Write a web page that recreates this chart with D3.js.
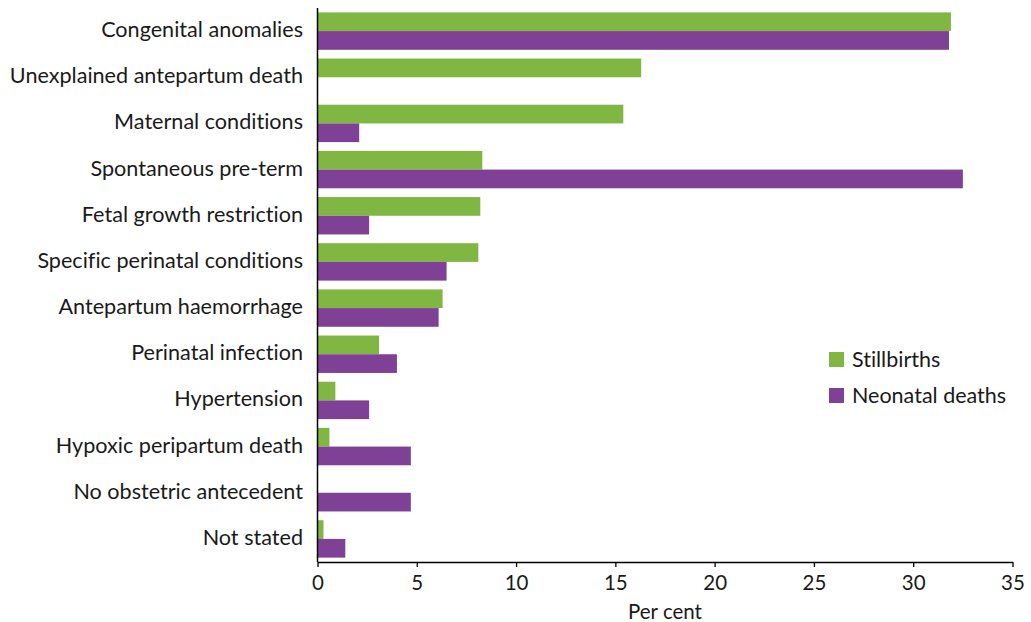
<!DOCTYPE html>
<html>
<head>
<meta charset="utf-8">
<script src="https://cdn.jsdelivr.net/npm/d3@7"></script>
<style>
  body { margin: 0; background: #fff; }
  svg { display: block; }
  text { font-family: Lato, "Noto Sans", sans-serif; fill: #1a1a1a; font-variant-ligatures: none; font-feature-settings: "liga" 0, "clig" 0; }
</style>
</head>
<body>
<svg id="chart" width="1031" height="622"></svg>
<script>
const categories = [
  "Congenital anomalies",
  "Unexplained antepartum death",
  "Maternal conditions",
  "Spontaneous pre-term",
  "Fetal growth restriction",
  "Specific perinatal conditions",
  "Antepartum haemorrhage",
  "Perinatal infection",
  "Hypertension",
  "Hypoxic peripartum death",
  "No obstetric antecedent",
  "Not stated"
];
const stillbirths = [31.9, 16.3, 15.4, 8.3, 8.2, 8.1, 6.3, 3.1, 0.9, 0.6, 0, 0.3];
const neonatalDeaths = [31.8, 0, 2.1, 32.5, 2.6, 6.5, 6.1, 4.0, 2.6, 4.7, 4.7, 1.4];
const seriesNames = ["Stillbirths", "Neonatal deaths"];
const seriesColors = ["#80b642", "#7f4195"];
const xTicks = [0, 5, 10, 15, 20, 25, 30, 35];
const xTitle = "Per cent";

(function () {
const svg = d3.select("#chart");
const mLeft = 317.5, mRight = 1012.5, mTop = 8, mBottom = 562;

const x = d3.scaleLinear().domain([0, 35]).range([mLeft, mRight]);
const y = d3.scaleBand().domain(categories).range([mTop, mBottom])
  .paddingInner(0.19).paddingOuter(0.095);
const ySub = d3.scaleBand().domain(seriesNames).range([0, y.bandwidth()]);

const data = categories.map((c, i) => ({
  cat: c,
  vals: [
    { s: seriesNames[0], v: stillbirths[i], color: seriesColors[0] },
    { s: seriesNames[1], v: neonatalDeaths[i], color: seriesColors[1] }
  ]
}));

const g = svg.append("g");
g.selectAll("g.cat").data(data).join("g")
  .attr("class", "cat")
  .attr("transform", d => `translate(0,${y(d.cat)})`)
  .selectAll("rect").data(d => d.vals.filter(e => e.v > 0)).join("rect")
  .attr("x", x(0))
  .attr("y", d => ySub(d.s))
  .attr("width", d => x(d.v) - x(0))
  .attr("height", ySub.bandwidth())
  .attr("fill", d => d.color);

svg.append("g").selectAll("text").data(categories).join("text")
  .attr("x", 303)
  .attr("y", d => y(d) + y.bandwidth() / 2 - 2)
  .attr("text-anchor", "end")
  .attr("dominant-baseline", "central")
  .attr("font-size", 21.6)
  .text(d => d);

svg.append("line")
  .attr("x1", mLeft).attr("x2", mLeft)
  .attr("y1", mTop).attr("y2", mBottom)
  .attr("stroke", "#000").attr("stroke-width", 1.5);

const xAxis = svg.append("g")
  .attr("transform", `translate(0,${mBottom})`)
  .call(d3.axisBottom(x).tickValues(xTicks).tickSize(5).tickSizeOuter(0).tickPadding(8));
xAxis.select(".domain").attr("stroke", "#000").attr("stroke-width", 1.5);
xAxis.selectAll(".tick line").attr("stroke", "#000").attr("stroke-width", 1.3);
xAxis.selectAll(".tick text")
  .attr("font-size", 20.5)
  .attr("font-family", "Lato, 'Noto Sans', sans-serif")
  .attr("fill", "#1a1a1a");

svg.append("text")
  .attr("x", (mLeft + mRight) / 2)
  .attr("y", 611)
  .attr("text-anchor", "middle")
  .attr("dominant-baseline", "central")
  .attr("font-size", 20.5)
  .text(xTitle);

const legend = svg.append("g").attr("transform", "translate(829,352)");
seriesNames.forEach((name, i) => {
  const row = legend.append("g").attr("transform", `translate(0,${i * 36})`);
  row.append("rect").attr("width", 15).attr("height", 15).attr("fill", seriesColors[i]);
  row.append("text")
    .attr("x", 23).attr("y", 6.5)
    .attr("dominant-baseline", "central")
    .attr("font-size", 21.5)
    .text(name);
});
})();
</script>
</body>
</html>
